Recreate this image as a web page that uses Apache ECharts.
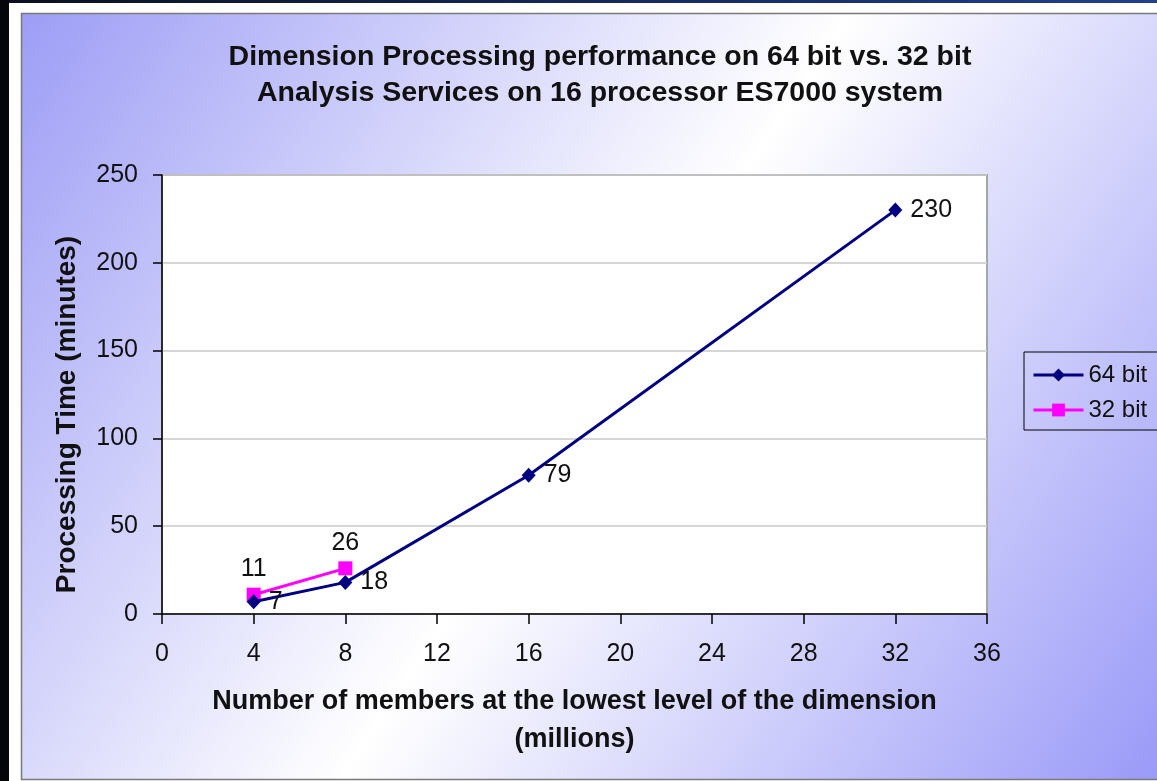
<!DOCTYPE html>
<html>
<head>
<meta charset="utf-8">
<script src="https://cdn.jsdelivr.net/npm/echarts@6/dist/echarts.min.js"></script>
<style>
html,body{margin:0;padding:0;background:#fff;}
#chart{width:1157px;height:781px;}
</style>
</head>
<body>
<div id="chart"></div>
<script>
// ---- data ----
const titleLines = ['Dimension Processing performance on 64 bit vs. 32 bit', 'Analysis Services on 16 processor ES7000 system'];
const xAxisTitle = ['Number of members at the lowest level of the dimension', '(millions)'];
const yAxisTitle = 'Processing Time (minutes)';
const seriesNames = ['64 bit', '32 bit'];
const members64 = [4, 8, 16, 32];
const minutes64 = [7, 18, 79, 230];
const members32 = [4, 8];
const minutes32 = [11, 26];
const xTickMin = 0, xTickMax = 36, xTickStep = 4;
const yTickMin = 0, yTickMax = 250, yTickStep = 50;

const FONT = 'Liberation Sans, Arial, sans-serif';
const chart = echarts.init(document.getElementById('chart'), null, {renderer: 'canvas'});

const pairs = (xs, ys) => xs.map((x, i) => [x, ys[i]]);

const option = {
  backgroundColor: '#ffffff',
  animation: false,
  graphic: [
    {type: 'rect', z: -10, shape: {x: 0, y: 0, width: 9, height: 781}, style: {fill: '#05060c'}},
    {type: 'rect', z: -10, shape: {x: 9, y: 0, width: 1148, height: 3},
      style: {fill: {type: 'linear', x: 0, y: 0, x2: 1, y2: 0, colorStops: [{offset: 0, color: '#0b1020'}, {offset: 1, color: '#203f8f'}]}}},
    {type: 'rect', z: -10, shape: {x: 21.5, y: 13.5, width: 1150, height: 766},
      style: {stroke: '#7a7a7a', lineWidth: 1.5,
        fill: {type: 'linear', x: 0, y: 0, x2: 1, y2: 1, colorStops: [
          {offset: 0, color: '#9d9df6'}, {offset: 0.5, color: '#ffffff'}, {offset: 1, color: '#9898f8'}]}}}
  ],
  title: {
    text: titleLines.join('\n'),
    left: 600, top: 39, textAlign: 'center', padding: 0,
    textStyle: {fontFamily: FONT, fontSize: 28.5, fontWeight: 'bold', color: '#111', lineHeight: 36}
  },
  legend: {
    orient: 'vertical', left: 1024, top: 352,
    padding: [11, 30, 8, 8], itemGap: 11, itemWidth: 50, itemHeight: 16,
    borderColor: '#000', borderWidth: 1, backgroundColor: 'transparent',
    lineStyle: {width: 3},
    textStyle: {fontFamily: FONT, fontSize: 24, color: '#111'},
    data: seriesNames
  },
  grid: {
    left: 162, right: 1157 - 987, top: 175, bottom: 781 - 614,
    show: true, backgroundColor: '#ffffff', borderColor: '#a6a6a6', borderWidth: 2,
    containLabel: false
  },
  xAxis: {
    type: 'value', min: xTickMin, max: xTickMax, interval: xTickStep,
    name: xAxisTitle.join('\n'), nameLocation: 'middle', nameGap: 69,
    nameTextStyle: {fontFamily: FONT, fontSize: 27, fontWeight: 'bold', color: '#111', lineHeight: 38},
    axisLine: {show: true, lineStyle: {color: '#000', width: 1.5}},
    axisTick: {show: true, inside: false, length: 10, lineStyle: {color: '#000', width: 1.5}},
    axisLabel: {fontFamily: FONT, fontSize: 25, color: '#111', margin: 28},
    splitLine: {show: false}
  },
  yAxis: {
    type: 'value', min: yTickMin, max: yTickMax, interval: yTickStep,
    name: yAxisTitle, nameLocation: 'middle', nameGap: 79,
    nameTextStyle: {fontFamily: FONT, fontSize: 28, fontWeight: 'bold', color: '#111', lineHeight: 32, padding: [0, 40, 0, 0]},
    axisLine: {show: true, lineStyle: {color: '#000', width: 1.5}},
    axisTick: {show: true, inside: false, length: 9, lineStyle: {color: '#000', width: 1.5}},
    axisLabel: {fontFamily: FONT, fontSize: 25, color: '#111', margin: 24},
    splitLine: {show: true, lineStyle: {color: '#c8c8c8', width: 1.5}}
  },
  series: [
    {
      name: seriesNames[0], type: 'line', z: 4,
      data: pairs(members64, minutes64),
      symbol: 'diamond', symbolSize: [14, 15],
      lineStyle: {color: '#000080', width: 3},
      itemStyle: {color: '#000080'},
      label: {show: true, position: 'right', distance: 8, fontFamily: FONT, fontSize: 25, color: '#111'}
    },
    {
      name: seriesNames[1], type: 'line', z: 3,
      data: pairs(members32, minutes32),
      symbol: 'rect', symbolSize: 14,
      lineStyle: {color: '#ff00ff', width: 3},
      itemStyle: {color: '#ff00ff'},
      label: {show: true, position: 'top', distance: 6, fontFamily: FONT, fontSize: 25, color: '#111'}
    }
  ]
};
chart.setOption(option);
</script>
</body>
</html>
